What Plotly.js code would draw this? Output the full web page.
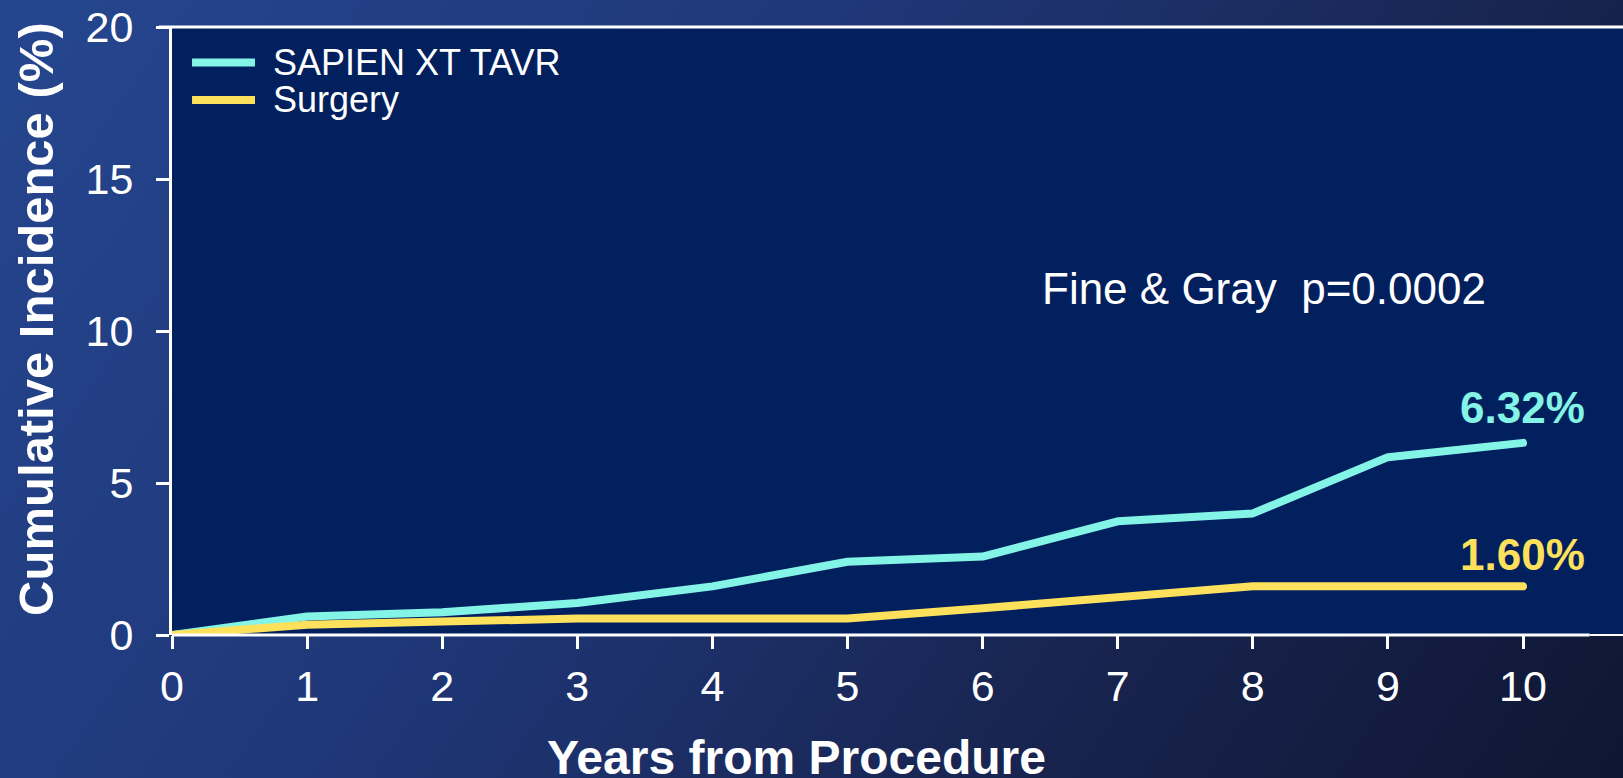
<!DOCTYPE html>
<html>
<head>
<meta charset="utf-8">
<script src="https://cdn.plot.ly/plotly-3.0.1.min.js"></script>
<style>
  html, body { margin: 0; padding: 0; }
  body {
    width: 1623px; height: 778px; overflow: hidden;
    background: linear-gradient(125deg, #25468f 0%, #1f3778 40%, #18244f 72%, #0f1633 100%);
  }
  #chart { width: 1623px; height: 778px; }
  .js-line { stroke-linecap: round; stroke-linejoin: round; }
</style>
</head>
<body>
<div id="chart"></div>
<script>
// ---- data ----
const years = [0, 1, 2, 3, 4, 5, 6, 7, 8, 9, 10];
const seriesNames = ["SAPIEN XT TAVR", "Surgery"];
const tavrValues = [0, 0.61, 0.75, 1.05, 1.6, 2.41, 2.58, 3.74, 4.0, 5.85, 6.32];
const surgeryValues = [0, 0.34, 0.44, 0.54, 0.54, 0.54, 0.88, 1.22, 1.60, 1.60, 1.60];
const endLabels = ["6.32%", "1.60%"];
const yTicks = [0, 5, 10, 15, 20];
const xTicks = [0, 1, 2, 3, 4, 5, 6, 7, 8, 9, 10];
const xTitle = "Years from Procedure";
const yTitle = "Cumulative Incidence (%)";
const pText = "Fine &amp; Gray&nbsp; p=0.0002";

const colors = ["#84F4E6", "#FDE05C"];
const FONT = "'Liberation Sans', Arial, sans-serif";

const traces = [
  { x: years, y: tavrValues, name: seriesNames[0], type: "scatter", mode: "lines",
    line: { color: colors[0], width: 8 }, cliponaxis: false, showlegend: false },
  { x: years, y: surgeryValues, name: seriesNames[1], type: "scatter", mode: "lines",
    line: { color: colors[1], width: 8 }, cliponaxis: false, showlegend: false }
];

const legendY = [18.83, 17.6];

const layout = {
  width: 1623, height: 778,
  margin: { l: 172, r: 0, t: 27, b: 143 },
  paper_bgcolor: "rgba(0,0,0,0)",
  plot_bgcolor: "#02205e",
  showlegend: false,
  font: { family: FONT, color: "#ffffff" },
  xaxis: {
    range: [0, 10.74], tickvals: xTicks, ticktext: xTicks.map(String),
    ticks: "outside", ticklen: 13, tickwidth: 3, tickcolor: "#ffffff",
    showline: false, showgrid: false, zeroline: false,
    tickfont: { family: FONT, size: 43, color: "#ffffff" },
    ticklabelstandoff: 0
  },
  yaxis: {
    range: [0, 20], tickvals: yTicks, ticktext: yTicks.map(String),
    ticks: "outside", ticklen: 13, tickwidth: 3, tickcolor: "#ffffff",
    showline: true, linewidth: 3, linecolor: "#ffffff",
    showgrid: false, zeroline: false,
    tickfont: { family: FONT, size: 43, color: "#ffffff" },
    ticklabelstandoff: 14
  },
  shapes: [
    { type: "line", xref: "paper", yref: "paper", x0: -0.009, x1: 1, y0: 1, y1: 1,
      line: { color: "#ffffff", width: 3 } },
    { type: "line", xref: "paper", yref: "paper", x0: 0, x1: 0.977, y0: 0, y1: 0,
      line: { color: "#ffffff", width: 3 } },
    { type: "line", xref: "paper", yref: "paper", x0: 0.977, x1: 1, y0: 0, y1: 0,
      line: { color: "#ffffff", width: 2 } },
    { type: "line", xref: "paper", yref: "y", x0: 0.0138, x1: 0.0572, y0: legendY[0], y1: legendY[0],
      line: { color: colors[0], width: 8 } },
    { type: "line", xref: "paper", yref: "y", x0: 0.0138, x1: 0.0572, y0: legendY[1], y1: legendY[1],
      line: { color: colors[1], width: 8 } }
  ],
  annotations: [
    { text: seriesNames[0], xref: "paper", yref: "y", x: 0.0683, y: legendY[0],
      xanchor: "left", yanchor: "middle", showarrow: false,
      font: { family: FONT, size: 36, color: "#ffffff" } },
    { text: seriesNames[1], xref: "paper", yref: "y", x: 0.0683, y: legendY[1],
      xanchor: "left", yanchor: "middle", showarrow: false,
      font: { family: FONT, size: 36, color: "#ffffff" } },
    { text: pText, xref: "x", yref: "y", x: 8.08, y: 11.4,
      xanchor: "center", yanchor: "middle", showarrow: false,
      font: { family: FONT, size: 44, color: "#ffffff" } },
    { text: "<b>" + endLabels[0] + "</b>", xref: "x", yref: "y", x: 10.47, y: 7.5,
      xanchor: "right", yanchor: "middle", showarrow: false,
      font: { family: FONT, size: 44, color: colors[0] } },
    { text: "<b>" + endLabels[1] + "</b>", xref: "x", yref: "y", x: 10.47, y: 2.66,
      xanchor: "right", yanchor: "middle", showarrow: false,
      font: { family: FONT, size: 44, color: colors[1] } },
    { text: "<b>" + xTitle + "</b>", xref: "paper", yref: "paper", x: 0.4307, y: -0.2007,
      xanchor: "center", yanchor: "middle", showarrow: false,
      font: { family: FONT, size: 48, color: "#ffffff" } },
    { text: "<b>" + yTitle + "</b>", xref: "paper", yref: "paper", x: -0.0937, y: 0.52,
      xanchor: "center", yanchor: "middle", textangle: -90, showarrow: false,
      font: { family: FONT, size: 49, color: "#ffffff" } }
  ]
};

Plotly.newPlot("chart", traces, layout, { staticPlot: true, displayModeBar: false });
</script>
</body>
</html>
